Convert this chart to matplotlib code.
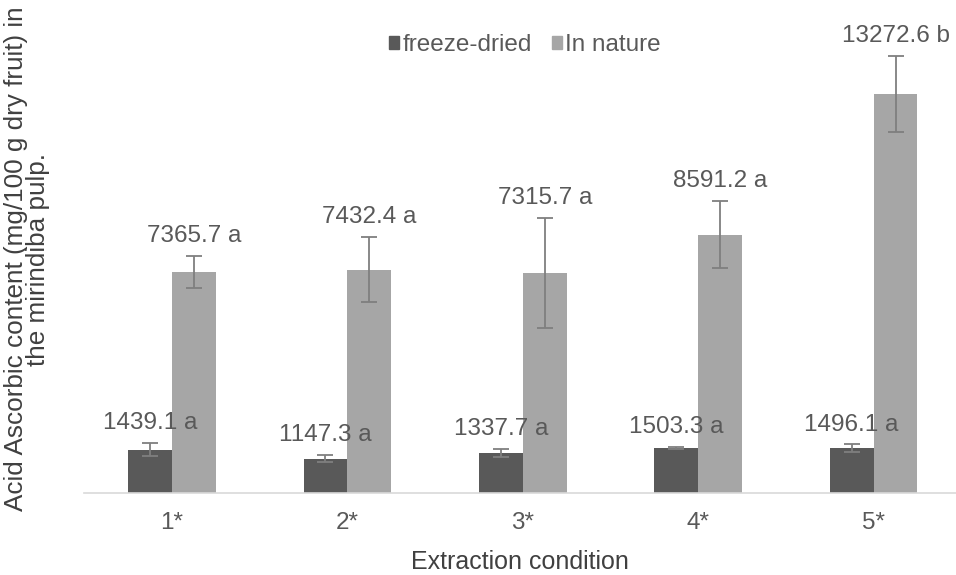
import numpy as np
import matplotlib
matplotlib.use('Agg')
import matplotlib.pyplot as plt
from matplotlib.patches import Patch

# data
conditions = ['1*', '2*', '3*', '4*', '5*']
freeze_dried = [1439.1, 1147.3, 1337.7, 1503.3, 1496.1]
freeze_err = [220, 110, 130, 40, 120]
freeze_letters = ['a', 'a', 'a', 'a', 'a']
in_nature = [7365.7, 7432.4, 7315.7, 8591.2, 13272.6]
nature_err = [530, 1090, 1830, 1120, 1260]
nature_letters = ['a', 'a', 'a', 'a', 'b']

plt.rcParams['font.family'] = ['Liberation Sans', 'DejaVu Sans']

W, H = 956, 575
fig = plt.figure(figsize=(W / 100, H / 100), dpi=100)
# axes placed in pixel terms (baseline at y=493 from top)
ax = fig.add_axes([84.3 / W, 82 / H, 877 / W, 493 / H])

x = np.arange(len(conditions))
bw = 0.25
dark = '#595959'
light = '#a6a6a6'
txt = '#595959'

ax.bar(x - bw / 2, freeze_dried, bw, color=dark, zorder=2)
ax.bar(x + bw / 2, in_nature, bw, color=light, zorder=2)
ax.errorbar(x - bw / 2, freeze_dried, yerr=freeze_err, fmt='none',
            ecolor='#7f7f7f', elinewidth=1.3, capsize=5.5, capthick=1.3, zorder=3)
ax.errorbar(x + bw / 2, in_nature, yerr=nature_err, fmt='none',
            ecolor='#7f7f7f', elinewidth=1.3, capsize=5.5, capthick=1.3, zorder=3)

# value labels above the error bars
for xs, vals, errs, lets in [(x - bw / 2, freeze_dried, freeze_err, freeze_letters),
                             (x + bw / 2, in_nature, nature_err, nature_letters)]:
    for xi, v, e, l in zip(xs, vals, errs, lets):
        ax.annotate(f'{v:.1f} {l}', (xi, v + e), xytext=(0, 10),
                    textcoords='offset points', ha='center', va='baseline',
                    fontsize=17.5, color=txt, annotation_clip=False)

ax.set_xlim(-0.5, len(conditions) - 0.5)
ax.set_ylim(0, 16400)
ax.set_xticks(x)
ax.set_xticklabels(conditions, fontsize=17.5, color=txt)
ax.tick_params(axis='x', length=0, pad=14)
ax.set_yticks([])
for s in ['top', 'right', 'left']:
    ax.spines[s].set_visible(False)
ax.spines['bottom'].set_color('#d9d9d9')
ax.spines['bottom'].set_linewidth(1.2)

ax.set_xlabel('Extraction condition', fontsize=18, color='#404040', va='center')
ax.xaxis.set_label_coords((520 - 84.3) / 877, -(562 - 493) / 493)

fig.text(27 / W, 1 - 259 / H,
         'Acid Ascorbic content (mg/100 g dry fruit) in\nthe mirindiba pulp.',
         rotation=90, ha='center', va='center', multialignment='center',
         fontsize=18.8, color='#404040', linespacing=0.92)

handles = [Patch(color=dark, label='freeze-dried'), Patch(color=light, label='In nature')]
fig.legend(handles=handles, loc='center', bbox_to_anchor=(525 / W, 1 - 45 / H),
           ncol=2, frameon=False, fontsize=17.5, labelcolor=txt,
           handlelength=0.42, handleheight=0.42, handletextpad=0.15,
           columnspacing=0.8, borderpad=0)

fig.savefig('out.png', dpi=100)
